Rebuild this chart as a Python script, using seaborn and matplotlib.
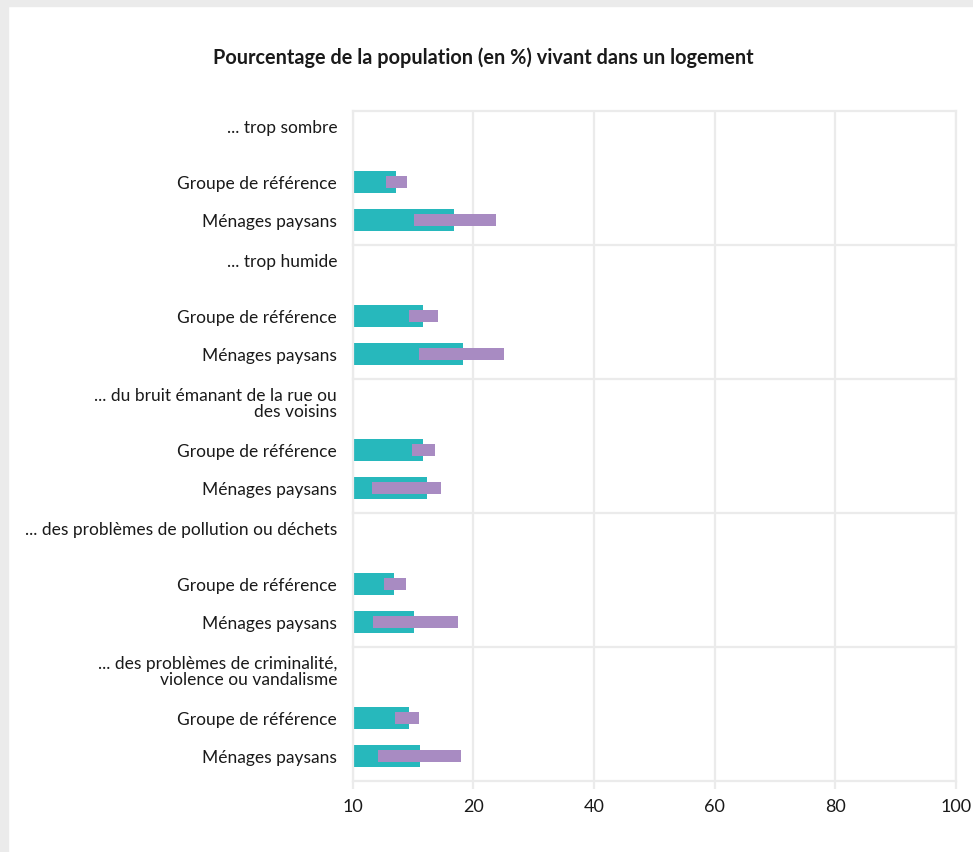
import pandas as pd
import matplotlib
matplotlib.use('Agg')
import matplotlib.pyplot as plt
import seaborn as sns
from matplotlib.patches import Rectangle

# Data
themes = ['... trop sombre',
          '... trop humide',
          '... du bruit émanant de la rue ou\ndes voisins',
          '... des problèmes de pollution ou déchets',
          '... des problèmes de criminalité,\nviolence ou vandalisme']
groups = ['Groupe de référence', 'Ménages paysans']
ref_values = [7.2, 11.7, 11.7, 6.9, 9.3]
paysans_values = [16.9, 18.3, 12.3, 10.2, 11.2]
ref_low = [5.5, 9.4, 9.9, 5.2, 7.0]
ref_high = [9.0, 14.1, 13.7, 8.8, 11.1]
paysans_low = [10.2, 11.0, 3.2, 3.4, 4.3]
paysans_high = [23.7, 25.1, 14.6, 17.4, 18.0]
x_ticks = [0, 20, 40, 60, 80, 100]
x_tick_labels = ['10', '20', '40', '60', '80', '100']

TEAL = '#27b8bc'
PURPLE = '#a88bc2'
GRID = '#ebebeb'
TEXT = '#1a1a1a'

sns.set_theme(style='white')
plt.rcParams['font.family'] = ['Lato', 'DejaVu Sans']

fig = plt.figure(figsize=(9.73, 8.53), dpi=100)
W, H = 973, 853
left, right, top, bottom = 352.5 / W, 956 / W, 1 - 112 / H, 1 - 782 / H
gs = fig.add_gridspec(len(themes), 1, left=left, right=right, top=top,
                      bottom=bottom, hspace=0)

# frame of the page
fig.patches.append(Rectangle((0, 1 - 7 / H), 1, 7 / H, transform=fig.transFigure,
                             color=GRID, zorder=0))
fig.patches.append(Rectangle((0, 0), 8 / W, 1, transform=fig.transFigure,
                             color=GRID, zorder=0))

for i, theme in enumerate(themes):
    ax = fig.add_subplot(gs[i])
    df = pd.DataFrame({
        'groupe': groups,
        'valeur': [ref_values[i], paysans_values[i]],
        'bas': [ref_low[i], paysans_low[i]],
        'haut': [ref_high[i], paysans_high[i]],
    })
    sns.barplot(data=df, x='valeur', y='groupe', order=groups, orient='h',
                color=TEAL, width=0.58, saturation=1, ax=ax, zorder=2,
                edgecolor='none', linewidth=0)
    ax.barh(df['groupe'], df['haut'] - df['bas'], left=df['bas'], height=0.31,
            color=PURPLE, edgecolor='none', linewidth=0, zorder=3)

    ax.set_xlim(0, 100)
    ax.set_ylim(1 + 25 / 38, -71 / 38)
    ax.set_xlabel('')
    ax.set_ylabel('')
    ax.set_xticks(x_ticks)
    ax.grid(axis='x', color=GRID, linewidth=1.6)
    ax.grid(axis='y', visible=False)
    ax.set_axisbelow(True)

    for side in ['top', 'left', 'right', 'bottom']:
        ax.spines[side].set_color(GRID)
        ax.spines[side].set_linewidth(1.6)
    if i < len(themes) - 1:
        ax.spines['bottom'].set_visible(False)
        ax.tick_params(axis='x', length=0, labelbottom=False)
    else:
        ax.set_xticklabels(x_tick_labels)
        ax.tick_params(axis='x', length=6, width=1.6, color=GRID, pad=6,
                       labelsize=13, labelcolor=TEXT, bottom=True)

    ax.tick_params(axis='y', length=0, pad=11, labelsize=12.5, labelcolor=TEXT)

    ax.annotate(theme, xy=(0, 1), xycoords='axes fraction', xytext=(-11, -6),
                textcoords='offset points', ha='right', va='top',
                multialignment='right', fontsize=12.5, color=TEXT,
                linespacing=1.0)

fig.text(0.497, 1 - 58 / H,
         'Pourcentage de la population (en %) vivant dans un logement',
         ha='center', va='center', fontsize=14.3, fontweight='bold', color=TEXT)

fig.savefig('out.png', dpi=100)
